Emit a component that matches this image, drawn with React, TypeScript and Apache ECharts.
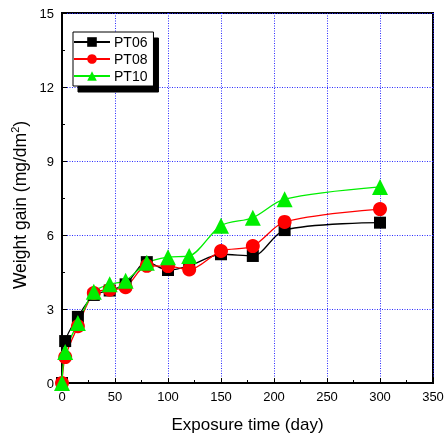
import React, { useEffect, useRef } from "react";
import * as echarts from "echarts";

const days = [0, 3, 15, 30, 45, 60, 80, 100, 120, 150, 180, 210, 300];
const pt06 = [0, 1.7, 2.68, 3.57, 3.75, 4.0, 4.9, 4.58, 4.75, 5.22, 5.15, 6.2, 6.5];
const pt08 = [0, 1.05, 2.3, 3.65, 3.78, 3.88, 4.75, 4.74, 4.6, 5.35, 5.55, 6.53, 7.05];
const pt10 = [0, 1.26, 2.43, 3.7, 4.0, 4.15, 4.87, 5.1, 5.15, 6.38, 6.7, 7.45, 7.95];
const seriesNames = ["PT06", "PT08", "PT10"];
const xTicks = { min: 0, max: 350, interval: 50 };
const yTicks = { min: 0, max: 15, interval: 3 };

export default function App() {
  const ref = useRef<HTMLDivElement>(null);
  useEffect(() => {
    if (!ref.current) return;
    const chart = echarts.init(ref.current, undefined, { renderer: "svg" });
    const font = "Liberation Sans, Arial, sans-serif";
    const mk = (name: string, vals: number[], color: string, symbol: string, size: number) => ({
      name,
      type: "line",
      smooth: 0.3,
      data: days.map((d, i) => [d, vals[i]]),
      symbol,
      symbolSize: size,
      lineStyle: { color, width: 1.3 },
      itemStyle: { color },
      z: 3,
    });
    const split = { show: true, lineStyle: { color: "#2b2bff", type: [1, 1.5], width: 1 } };
    chart.setOption({
      animation: false,
      textStyle: { fontFamily: font },
      grid: {
        left: 62, top: 13, right: 14, bottom: 58,
        outerBoundsMode: "none", containLabel: false,
        show: true, borderColor: "#000", borderWidth: 2, backgroundColor: "#fff",
      },
      legend: {
        left: 73, top: 32, orient: "vertical",
        data: seriesNames,
        backgroundColor: "#fff", borderColor: "#000", borderWidth: 1,
        shadowColor: "#000", shadowOffsetX: 5, shadowOffsetY: 6, shadowBlur: 0,
        padding: [3, 6, 3, 0], itemGap: 3, itemWidth: 36, itemHeight: 12,
        textStyle: { fontSize: 14, color: "#000", fontFamily: font, padding: [0, 0, 0, -1] },
      },
      xAxis: {
        type: "value", ...xTicks,
        name: "Exposure time (day)", nameLocation: "middle", nameGap: 33,
        nameTextStyle: { fontSize: 17, color: "#000", fontFamily: font },
        axisLine: { lineStyle: { color: "#000", width: 2 } },
        axisTick: { inside: true, length: 5, lineStyle: { color: "#000" } },
        minorTick: { show: true, splitNumber: 2, length: 3, lineStyle: { color: "#000" } },
        axisLabel: { fontSize: 13, color: "#000", margin: 7, fontFamily: font },
        splitLine: split,
      },
      yAxis: {
        type: "value", ...yTicks,
        name: "{a|Weight gain (mg/dm}{s|2}{a|)}", nameLocation: "middle", nameGap: 31, nameRotate: 90,
        nameTextStyle: {
          fontFamily: font,
          padding: [0, 14, 0, 0],
          rich: {
            a: { fontSize: 17.5, color: "#000", fontFamily: font },
            s: { fontSize: 11, color: "#000", fontFamily: font, verticalAlign: "top", padding: [0, 0, 9, 0] },
          },
        },
        axisLine: { lineStyle: { color: "#000", width: 2 } },
        axisTick: { inside: true, length: 5, lineStyle: { color: "#000" } },
        minorTick: { show: true, splitNumber: 2, length: 3, lineStyle: { color: "#000" } },
        axisLabel: { fontSize: 13, color: "#000", margin: 8, fontFamily: font },
        splitLine: split,
      },
      series: [
        mk(seriesNames[0], pt06, "#000000", "rect", 12),
        mk(seriesNames[1], pt08, "#ff0000", "circle", 14),
        mk(seriesNames[2], pt10, "#00ee00", "triangle", 16),
      ],
    });
    return () => chart.dispose();
  }, []);
  return <div ref={ref} style={{ position: "fixed", left: 0, top: 0, width: 447, height: 441 }} />;
}
